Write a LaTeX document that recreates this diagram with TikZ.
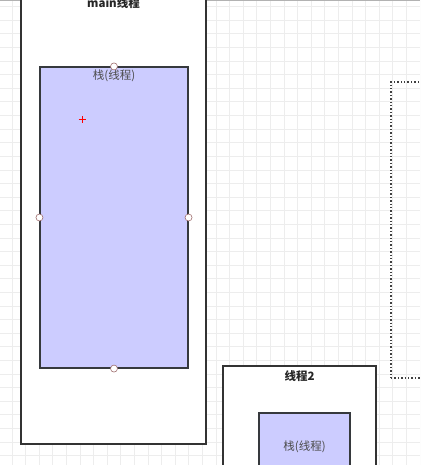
\documentclass[tikz,border=0pt]{standalone}
\usepackage{fontspec}
\newfontfamily\cjk{Noto Sans CJK SC}
\usetikzlibrary{positioning}
\definecolor{stackfill}{HTML}{CCCCFF}
\definecolor{stackline}{HTML}{36393D}
\definecolor{gridgray}{HTML}{EDEDED}
\definecolor{handleline}{HTML}{A07070}

\begin{document}
\begin{tikzpicture}[
    x=1pt, y=-1pt,
    every node/.style={font=\cjk\fontsize{11.5}{13}\selectfont, inner sep=0pt},
    thread/.style={draw=black!80, line width=1.4pt, fill=white, rectangle},
    stack/.style={draw=stackline, line width=1.1pt, fill=stackfill, rectangle},
    title/.style={font=\cjk\bfseries\fontsize{11.5}{13}\selectfont, text=black!85},
    stacktext/.style={text=black!70},
    handle/.style={circle, draw=handleline, fill=white, minimum size=7pt, line width=0.6pt}
]
\useasboundingbox (0,0) rectangle (420,465);
\clip (0,0) rectangle (420,465);
\fill[white] (0,0) rectangle (420,465);
% grid
\foreach \i in {0,...,30}
    \draw[gridgray, line width=0.8pt] ({12+13.6*\i},0) -- ({12+13.6*\i},465);
\foreach \j in {0,...,34}
    \draw[gridgray, line width=0.8pt] (0,{6.7+13.6*\j}) -- (420,{6.7+13.6*\j});
\draw[black!30, line width=1pt] (0,0.5) -- (420,0.5);

% main thread
\node[thread, minimum width=185pt, minimum height=474pt] (mainthr) at (113.5,207) {};
\node[title] (mainttl) at (113.5,3) {main线程};
\node[stack, minimum width=148pt, minimum height=301pt] (stack1) at (114,217.5) {};
\node[stacktext, below=3pt of stack1.north] (stack1txt) {栈(线程)};
\node[handle] (hn) at (stack1.north) {};
\node[handle] (hw) at (stack1.west) {};
\node[handle] (he) at (stack1.east) {};
\node[handle] (hs) at (stack1.south) {};
\draw[red, line width=1pt] (78.5,120) -- (85.5,120) (82,116.5) -- (82,123.5);

% thread 2
\node[thread, minimum width=153pt, minimum height=130pt] (thr2) at (299.5,431) {};
\node[title, below=5pt of thr2.north] (thr2ttl) {线程2};
\node[stack, stacktext, minimum width=91pt, minimum height=68pt] (stack2) at (304.5,447) {栈(线程)};

% dotted frame
\node[draw=black!75, dotted, line width=1.4pt, minimum width=70pt, minimum height=296pt] (other) at (426,230) {};
\end{tikzpicture}
\end{document}
